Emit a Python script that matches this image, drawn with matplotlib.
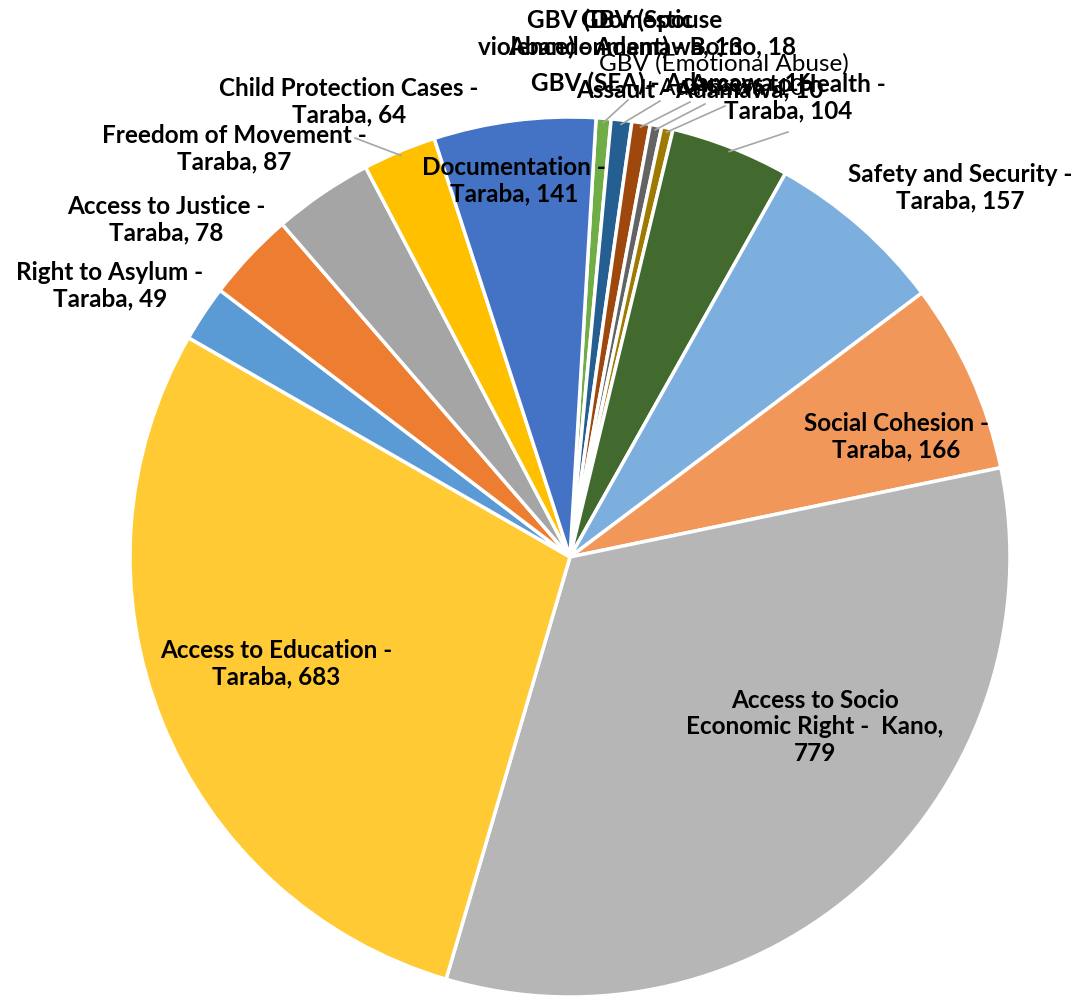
import numpy as np
import matplotlib.pyplot as plt

# slices, clockwise from the top
labels = [
    'GBV (Domestic\nviolence) - Adamawa, 13',
    'GBV (Spouse\nAbandonment) - Borno, 18',
    'GBV (SEA) - Adamawa, 16',
    'GBV (Emotional Abuse)\n- Adamawa, 10',
    'Assault - Adamawa, 10',
    'Access to Health -\nTaraba, 104',
    'Safety and Security -\nTaraba, 157',
    'Social Cohesion -\nTaraba, 166',
    'Access to Socio\nEconomic Right -  Kano,\n779',
    'Access to Education -\nTaraba, 683',
    'Right to Asylum -\nTaraba, 49',
    'Access to Justice -\nTaraba, 78',
    'Freedom of Movement -\nTaraba, 87',
    'Child Protection Cases -\nTaraba, 64',
    'Documentation -\nTaraba, 141',
]
values = [13, 18, 16, 10, 10, 104, 157, 166, 779, 683, 49, 78, 87, 64, 141]
colors = ['#70AD47', '#255E91', '#9E480E', '#636363', '#9E7A00', '#436A2E',
          '#7CAFDD', '#F1975A', '#B6B6B6', '#FFCA33', '#5B9BD5', '#ED7D31',
          '#A5A5A5', '#FFC000', '#4472C4']

# label centres in pixels and leader line end (None = no line)
label_pos = [(610, 34), (652, 34), (672, 83), (724, 76), (700, 90), (788, 98),
             (960, 188), (896, 437), (815, 727), (276, 664), (110, 286),
             (166, 220), (234, 149), (349, 102), (514, 181)]
leader_end = [(628, 100), (660, 101), (690, 102), (705, 104), (725, 106),
              (788, 132), None, None, None, None, None, None, None,
              (355, 138), None]
thin = [False, False, False, True, False] + [False] * 10

W, H = 1084, 996
cx, cy, R = 570, 557, 440


def px2d(p):
    return (p[0] - cx) / R, (cy - p[1]) / R


fig = plt.figure(figsize=(W / 100, H / 100), dpi=100)
ax = fig.add_axes([(cx - R) / W, (H - cy - R) / H, 2 * R / W, 2 * R / H])
wedges, _ = ax.pie(values, colors=colors, startangle=86.6, counterclock=False,
                   radius=1, wedgeprops=dict(edgecolor='white', linewidth=2.5))
ax.set_xlim(-1, 1)
ax.set_ylim(-1, 1)
ax.set_aspect('equal')
ax.axis('off')

for w, lab, pos, end, th in zip(wedges, labels, label_pos, leader_end, thin):
    if end is not None:
        ang = np.deg2rad((w.theta1 + w.theta2) / 2)
        ex, ey = px2d(end)
        ax.plot([np.cos(ang) * 0.99, ex], [np.sin(ang) * 0.99, ey],
                color='#A6A6A6', lw=1.2, clip_on=False)
    tx, ty = px2d(pos)
    ax.text(tx, ty, lab, ha='center', va='center', multialignment='center',
            fontsize=17.5, fontweight='normal' if th else 'bold',
            family='Lato', linespacing=1.2, color='black', clip_on=False)

fig.savefig('out.png', dpi=100)
